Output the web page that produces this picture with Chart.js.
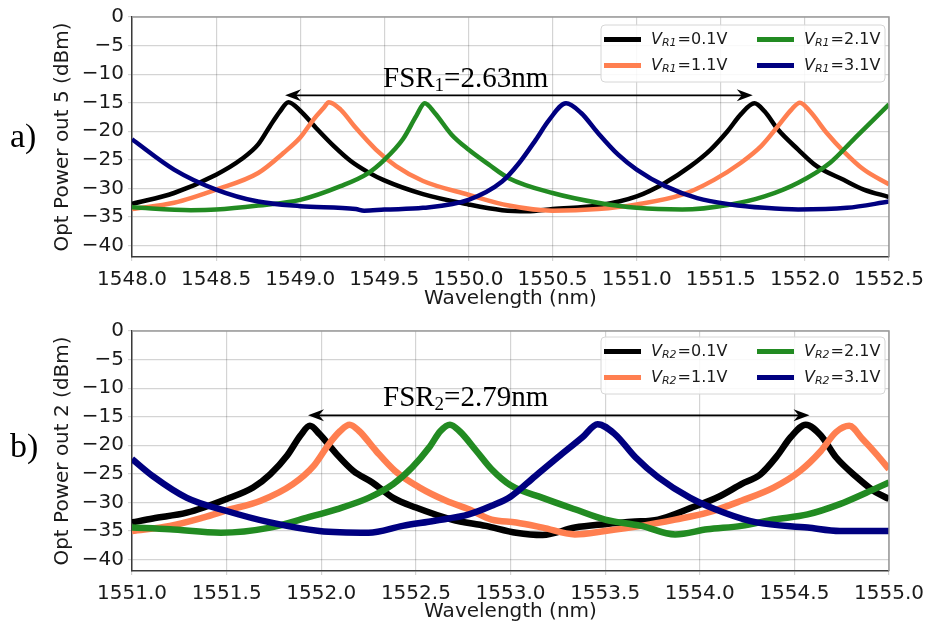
<!DOCTYPE html>
<html>
<head>
<meta charset="utf-8">
<script src="https://cdn.jsdelivr.net/npm/chart.js@4.4.1/dist/chart.umd.min.js"></script>
<style>
  html, body { margin: 0; padding: 0; background: #fff; }
  #wrap { position: relative; width: 931px; height: 625px; }
  canvas { position: absolute; left: 0; }
  #chartA { top: 0; }
  #chartB { top: 312px; }
</style>
</head>
<body>
<div id="wrap">
  <canvas id="chartA" width="931" height="312"></canvas>
  <canvas id="chartB" width="931" height="313"></canvas>
</div>
<script>
// ---- shared ----
const voltages = ['0.1V', '1.1V', '2.1V', '3.1V'];
const colors = ['#000000', '#FF7F50', '#228B22', '#000080'];
const yTicks = [-40, -35, -30, -25, -20, -15, -10, -5, 0];

// ---- panel a) : out 5, V_R1 ----
const xTicksA = [1548.0, 1548.5, 1549.0, 1549.5, 1550.0, 1550.5, 1551.0, 1551.5, 1552.0, 1552.5];

const blackA_x = [1548.0, 1548.25, 1548.5, 1548.65, 1548.75, 1548.82, 1548.88, 1548.93, 1549.0, 1549.1, 1549.2, 1549.3, 1549.4, 1549.5, 1549.73, 1550.0, 1550.2, 1550.35, 1550.5, 1550.77, 1551.0, 1551.17, 1551.32, 1551.44, 1551.54, 1551.62, 1551.7, 1551.76, 1551.84, 1551.96, 1552.07, 1552.23, 1552.35, 1552.5];
const blackA_y = [-32.7, -30.8, -27.6, -24.9, -22.3, -19.1, -16.5, -14.9, -16.4, -19.6, -22.6, -25.2, -27.1, -28.6, -31.0, -32.8, -33.8, -34.0, -33.6, -33.0, -31.4, -29.0, -26.1, -23.2, -20.0, -17.0, -15.1, -16.5, -19.7, -23.2, -26.1, -28.5, -30.2, -31.5];

const orangeA_x = [1548.0, 1548.25, 1548.5, 1548.75, 1548.9, 1549.0, 1549.08, 1549.14, 1549.17, 1549.24, 1549.33, 1549.45, 1549.57, 1549.73, 1550.0, 1550.24, 1550.5, 1550.77, 1551.0, 1551.27, 1551.46, 1551.62, 1551.74, 1551.84, 1551.92, 1551.97, 1552.03, 1552.13, 1552.23, 1552.35, 1552.5];
const orangeA_y = [-33.6, -32.5, -30.2, -27.3, -23.8, -21.1, -17.9, -15.9, -14.9, -16.2, -19.4, -23.2, -26.1, -28.7, -31.1, -33.0, -33.9, -33.6, -32.8, -31.1, -28.5, -25.5, -22.6, -19.1, -16.2, -15.0, -16.5, -20.3, -23.5, -26.7, -29.3];

const greenA_x = [1548.0, 1548.35, 1548.5, 1548.75, 1549.0, 1549.24, 1549.4, 1549.5, 1549.61, 1549.69, 1549.74, 1549.8, 1549.9, 1550.0, 1550.12, 1550.24, 1550.5, 1550.77, 1551.0, 1551.27, 1551.56, 1551.76, 1551.96, 1552.15, 1552.29, 1552.41, 1552.5];
const greenA_y = [-33.3, -33.8, -33.7, -33.0, -32.0, -29.6, -27.4, -25.0, -21.4, -17.3, -15.1, -16.8, -20.6, -23.2, -25.8, -28.2, -30.8, -32.5, -33.4, -33.7, -32.8, -31.4, -29.0, -25.5, -21.4, -17.9, -15.3];

const navyA_x = [1548.0, 1548.25, 1548.5, 1548.75, 1549.0, 1549.33, 1549.38, 1549.5, 1549.73, 1550.0, 1550.2, 1550.3, 1550.4, 1550.48, 1550.58, 1550.67, 1550.77, 1550.89, 1551.0, 1551.17, 1551.36, 1551.56, 1551.76, 1551.96, 1552.25, 1552.5];
const navyA_y = [-21.4, -26.7, -30.2, -32.3, -33.1, -33.6, -33.9, -33.7, -33.4, -32.0, -28.8, -25.6, -21.5, -18.0, -15.1, -16.8, -20.3, -24.1, -26.7, -29.6, -31.7, -32.8, -33.4, -33.7, -33.4, -32.3];

const fsrA = [1548.91, 1551.69, -13.7];

// ---- panel b) : out 2, V_R2 ----
const xTicksB = [1551.0, 1551.5, 1552.0, 1552.5, 1553.0, 1553.5, 1554.0, 1554.5, 1555.0];

const blackB_x = [1551.0, 1551.11, 1551.29, 1551.5, 1551.64, 1551.73, 1551.82, 1551.89, 1551.94, 1551.99, 1552.08, 1552.17, 1552.27, 1552.38, 1552.5, 1552.69, 1552.87, 1553.03, 1553.17, 1553.34, 1553.5, 1553.64, 1553.78, 1553.95, 1554.1, 1554.22, 1554.32, 1554.41, 1554.48, 1554.56, 1554.64, 1554.72, 1554.83, 1554.92, 1555.0];
const blackB_y = [-33.5, -32.8, -31.8, -29.4, -27.4, -25.1, -21.8, -18.3, -16.6, -18.0, -21.5, -24.5, -26.5, -29.2, -30.9, -33.0, -34.1, -35.3, -35.7, -34.4, -33.8, -33.4, -33.0, -31.0, -29.0, -26.8, -25.1, -21.8, -18.6, -16.4, -18.3, -22.1, -25.6, -28.0, -29.4];

const orangeB_x = [1551.0, 1551.2, 1551.38, 1551.5, 1551.68, 1551.85, 1551.96, 1552.04, 1552.1, 1552.15, 1552.2, 1552.29, 1552.39, 1552.52, 1552.66, 1552.78, 1552.9, 1553.03, 1553.17, 1553.34, 1553.5, 1553.69, 1553.87, 1554.04, 1554.22, 1554.39, 1554.53, 1554.64, 1554.72, 1554.79, 1554.86, 1554.94, 1555.0];
const orangeB_y = [-35.0, -34.1, -32.6, -31.4, -29.7, -26.8, -23.6, -19.8, -17.5, -16.4, -17.5, -21.0, -24.5, -27.4, -29.7, -31.2, -33.0, -33.5, -34.4, -35.6, -35.0, -34.1, -33.0, -31.8, -29.7, -27.4, -24.5, -21.0, -17.7, -16.6, -18.9, -21.8, -24.2];

const greenB_x = [1551.0, 1551.2, 1551.47, 1551.73, 1551.92, 1552.08, 1552.25, 1552.38, 1552.48, 1552.57, 1552.63, 1552.68, 1552.73, 1552.82, 1552.9, 1553.0, 1553.17, 1553.34, 1553.5, 1553.69, 1553.87, 1554.04, 1554.22, 1554.39, 1554.57, 1554.74, 1554.88, 1555.0];
const greenB_y = [-34.4, -34.7, -35.3, -34.4, -32.7, -31.2, -29.2, -26.8, -23.9, -20.4, -17.5, -16.4, -17.5, -21.0, -24.2, -27.0, -29.2, -31.2, -33.0, -34.1, -35.6, -34.7, -34.1, -33.0, -32.1, -30.3, -28.3, -26.5];

const navyB_x = [1551.0, 1551.11, 1551.29, 1551.5, 1551.73, 1551.99, 1552.25, 1552.43, 1552.6, 1552.78, 1552.9, 1553.0, 1553.13, 1553.25, 1553.38, 1553.46, 1553.55, 1553.66, 1553.78, 1553.95, 1554.13, 1554.3, 1554.57, 1554.74, 1555.0];
const navyB_y = [-22.4, -25.4, -29.2, -31.5, -33.5, -35.0, -35.3, -34.1, -33.2, -32.1, -30.6, -29.0, -25.4, -22.1, -18.6, -16.3, -18.0, -22.1, -25.6, -29.2, -31.8, -33.5, -34.4, -35.0, -35.0];

const fsrB = [1551.93, 1554.58, -14.75];

// ---- helpers ----
Chart.defaults.font.family = '"DejaVu Sans", sans-serif';
Chart.defaults.color = '#1a1a1a';

const pts = (xs, ys) => xs.map((x, i) => ({ x: x, y: ys[i] }));
const minus = v => String(v).replace('-', '\u2212');

function makeSets(series, width) {
  return series.map((s, i) => ({
    label: 'V=' + voltages[i],
    data: pts(s[0], s[1]),
    borderColor: colors[i],
    borderWidth: width,
    pointRadius: 0,
    cubicInterpolationMode: 'monotone',
    order: 4 - i
  }));
}

// frame, legend, FSR arrow and panel letter
const extras = {
  id: 'extras',
  afterDraw(chart, args, o) {
    const ctx = chart.ctx, a = chart.chartArea;
    const xs = chart.scales.x, ys = chart.scales.y;
    ctx.save();
    // top / right spines
    ctx.strokeStyle = '#9a9a9a';
    ctx.lineWidth = 1.5;
    ctx.beginPath();
    ctx.moveTo(a.left, a.top); ctx.lineTo(a.right, a.top); ctx.lineTo(a.right, a.bottom);
    ctx.stroke();

    // legend
    ctx.fillStyle = 'rgba(255,255,255,0.85)';
    ctx.strokeStyle = '#d6d6d6';
    ctx.lineWidth = 1;
    ctx.beginPath();
    ctx.roundRect(601, 25, 284, 57, 4);
    ctx.fill(); ctx.stroke();
    const spots = [[604, 39.5], [604, 65.5], [757, 39.5], [757, 65.5]];
    voltages.forEach((v, i) => {
      const [lx, ly] = spots[i];
      ctx.strokeStyle = colors[i];
      ctx.lineWidth = 5;
      ctx.beginPath(); ctx.moveTo(lx, ly); ctx.lineTo(lx + 37, ly); ctx.stroke();
      ctx.fillStyle = '#1a1a1a';
      ctx.textBaseline = 'middle';
      let tx = lx + 47;
      ctx.font = 'italic 16px "DejaVu Sans"';
      ctx.fillText('V', tx, ly); tx += ctx.measureText('V').width;
      ctx.font = 'italic 11px "DejaVu Sans"';
      ctx.fillText(o.sub, tx, ly + 4); tx += ctx.measureText(o.sub).width + 1;
      ctx.font = '16px "DejaVu Sans"';
      ctx.fillText('=' + v, tx, ly);
    });

    // FSR double arrow
    const x0 = xs.getPixelForValue(o.fsr[0]), x1 = xs.getPixelForValue(o.fsr[1]);
    const y0 = ys.getPixelForValue(o.fsr[2]);
    ctx.strokeStyle = '#000'; ctx.fillStyle = '#000'; ctx.lineWidth = 1.8;
    ctx.beginPath(); ctx.moveTo(x0 + 8, y0); ctx.lineTo(x1 - 8, y0); ctx.stroke();
    [[x0, 1], [x1, -1]].forEach(([hx, d]) => {
      ctx.beginPath();
      ctx.moveTo(hx, y0);
      ctx.lineTo(hx + d * 16, y0 - 6);
      ctx.lineTo(hx + d * 11, y0);
      ctx.lineTo(hx + d * 16, y0 + 6);
      ctx.closePath(); ctx.fill();
    });
    // FSR text
    ctx.textBaseline = 'alphabetic';
    let tx = 383;
    ctx.font = '29px "Liberation Serif"';
    ctx.fillText('FSR', tx, o.textY); tx += ctx.measureText('FSR').width;
    ctx.font = '19px "Liberation Serif"';
    ctx.fillText(o.fsrSub, tx, o.textY + 4); tx += ctx.measureText(o.fsrSub).width;
    ctx.font = '29px "Liberation Serif"';
    ctx.fillText('=' + o.fsrText, tx, o.textY);

    // panel letter
    ctx.font = '34px "Liberation Serif"';
    ctx.fillText(o.panel, 10, o.panelY);
    ctx.restore();
  }
};

function makeChart(id, sets, xMin, xMax, xTicks, yTitle, axisH, padTop, extra) {
  return new Chart(document.getElementById(id), {
    type: 'line',
    data: { datasets: sets },
    plugins: [extras],
    options: {
      responsive: false,
      animation: false,
      layout: { padding: { top: padTop, right: 39, left: 0, bottom: 0 } },
      plugins: { legend: { display: false }, tooltip: { enabled: false }, extras: extra },
      scales: {
        x: {
          type: 'linear', min: xMin, max: xMax,
          afterBuildTicks: s => { s.ticks = xTicks.map(v => ({ value: v })); },
          afterFit: s => { s.height = axisH; },
          ticks: { font: { size: 20 }, padding: 7, maxRotation: 0, autoSkip: false, callback: v => v.toFixed(1) },
          grid: { color: 'rgba(0,0,0,0.17)', lineWidth: 1.2, tickLength: 4 },
          border: { color: '#3a3a3a', width: 1.5 },
          title: { display: true, text: 'Wavelength (nm)', font: { size: 20 }, padding: { top: 0, bottom: 1 } }
        },
        y: {
          min: -42, max: 0,
          afterBuildTicks: s => { s.ticks = yTicks.map(v => ({ value: v })); },
          afterFit: s => { s.width = 132; },
          ticks: { font: { size: 20 }, padding: 4, callback: v => minus(v) },
          grid: { color: 'rgba(0,0,0,0.17)', lineWidth: 1.2, tickLength: 4 },
          border: { color: '#3a3a3a', width: 1.5 },
          title: { display: true, text: yTitle, font: { size: 20 }, padding: { top: 51, bottom: 0 } }
        }
      }
    }
  });
}

makeChart('chartA',
  makeSets([[blackA_x, blackA_y], [orangeA_x, orangeA_y], [greenA_x, greenA_y], [navyA_x, navyA_y]], 4.5),
  1548.0, 1552.5, xTicksA, 'Opt Power out 5 (dBm)', 55, 17,
  { sub: 'R1', fsr: fsrA, fsrSub: '1', fsrText: '2.63nm', textY: 87, panel: 'a)', panelY: 147 });

makeChart('chartB',
  makeSets([[blackB_x, blackB_y], [orangeB_x, orangeB_y], [greenB_x, greenB_y], [navyB_x, navyB_y]], 6.5),
  1551.0, 1555.0, xTicksB, 'Opt Power out 2 (dBm)', 54, 19,
  { sub: 'R2', fsr: fsrB, fsrSub: '2', fsrText: '2.79nm', textY: 94, panel: 'b)', panelY: 145 });
</script>
</body>
</html>
